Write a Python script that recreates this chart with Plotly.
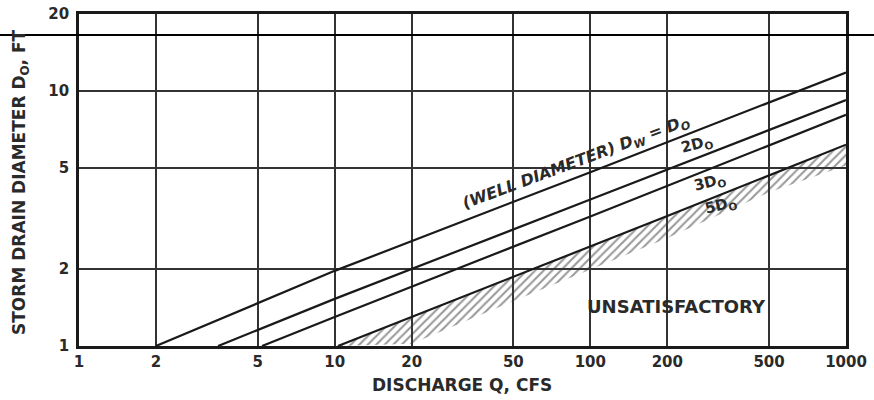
import math
import plotly.graph_objects as go

# ---- data ----
x_tick_vals = [1, 2, 5, 10, 20, 50, 100, 200, 500, 1000]
x_tick_text = ["1", "2", "5", "10", "20", "50", "100", "200", "500", "1000"]
y_tick_vals = [1, 2, 5, 10, 20]
y_tick_text = ["1", "2", "5", "10", "20"]

q_dw1 = [2, 10, 100, 1000]
d_dw1 = [1.0, 1.97, 4.8, 11.8]
q_dw2 = [3.5, 10, 100, 1000]
d_dw2 = [1.0, 1.53, 3.75, 9.2]
q_dw3 = [5.2, 10, 100, 1000]
d_dw3 = [1.0, 1.3, 3.22, 8.05]
q_dw5 = [10.3, 20, 50, 100, 200, 1000]
d_dw5 = [1.0, 1.3, 1.87, 2.46, 3.23, 6.15]
q_hatch_low = [10.3, 20, 50, 100, 200, 500, 1000]
d_hatch_low = [1.0, 1.02, 1.5, 2.0, 2.65, 4.0, 5.1]

INK = "#1a1a1a"
TXT = "#2a2a2a"
FONT = "DejaVu Sans"

fig = go.Figure()

# hatched "unsatisfactory" band below the 5Do line
fig.add_trace(go.Scatter(x=q_hatch_low, y=d_hatch_low, mode="lines",
                         line=dict(width=0), hoverinfo="skip", showlegend=False))
fig.add_trace(go.Scatter(x=q_dw5, y=d_dw5, mode="lines", line=dict(width=0),
                         fill="tonexty", fillcolor="rgba(0,0,0,0)",
                         fillpattern=dict(shape="/", fgcolor="#333", bgcolor="rgba(0,0,0,0)",
                                          size=6, solidity=0.35),
                         hoverinfo="skip", showlegend=False))

for q, d in [(q_dw1, d_dw1), (q_dw2, d_dw2), (q_dw3, d_dw3), (q_dw5, d_dw5)]:
    fig.add_trace(go.Scatter(x=q, y=d, mode="lines", line=dict(color=INK, width=2.2),
                             showlegend=False))

W, H = 874, 400
L, R, T, B = 79, 28, 14, 54
pw, ph = W - L - R, H - T - B


def px_to_data(px, py):
    return (px - L) / 256.0, (H - B - py) / 255.0


def label(text, px, py, size, angle=0, italic=False):
    lx, ly = px_to_data(px, py)
    fig.add_annotation(x=lx, y=ly, xref="x", yref="y", text=text, showarrow=False,
                       textangle=angle, xanchor="center", yanchor="middle",
                       font=dict(family=FONT, size=size, color=TXT, weight="bold",
                                 style="italic" if italic else "normal"))


label("(WELL DIAMETER) D<sub>W</sub> = D<sub>O</sub>", 577, 163, 16, angle=-20.5, italic=True)
label("2D<sub>O</sub>", 698, 145, 15, angle=-14)
label("3D<sub>O</sub>", 711, 183, 15, angle=-14)
label("5D<sub>O</sub>", 722, 206, 15, angle=-14)
label("UNSATISFACTORY", 677, 307, 18)

# axis titles
fig.add_annotation(xref="paper", yref="paper", x=(462 - L) / pw, y=(H - B - 385) / ph,
                   text="DISCHARGE Q, CFS", showarrow=False, xanchor="center", yanchor="middle",
                   font=dict(family=FONT, size=17, color=TXT, weight="bold"))
fig.add_annotation(xref="paper", yref="paper", x=(20 - L) / pw, y=(H - B - 182) / ph,
                   text="STORM DRAIN DIAMETER D<sub>O</sub>, FT", showarrow=False, textangle=-90,
                   xanchor="center", yanchor="middle",
                   font=dict(family=FONT, size=17, color=TXT, weight="bold"))

# stray horizontal scan line across the page
fig.add_shape(type="line", xref="paper", yref="paper", x0=-L / pw, x1=(W - L) / pw,
              y0=(H - B - 35) / ph, y1=(H - B - 35) / ph, line=dict(color="black", width=2))

fig.update_xaxes(type="log", range=[0, 3], tickvals=x_tick_vals, ticktext=x_tick_text,
                 showgrid=True, gridcolor="#333", gridwidth=1.6, zeroline=False,
                 showline=True, mirror=True, linecolor=INK, linewidth=2.6,
                 ticks="", ticklabelstandoff=0,
                 tickfont=dict(family=FONT, size=15, color=TXT, weight="bold"))
fig.update_yaxes(type="log", range=[0, math.log10(20)], tickvals=y_tick_vals, ticktext=y_tick_text,
                 showgrid=True, gridcolor="#333", gridwidth=1.6, zeroline=False,
                 showline=True, mirror=True, linecolor=INK, linewidth=2.6,
                 ticks="", ticklabelstandoff=4,
                 tickfont=dict(family=FONT, size=15, color=TXT, weight="bold"))

fig.update_layout(width=W, height=H, margin=dict(l=L, r=R, t=T, b=B, autoexpand=False),
                  paper_bgcolor="white", plot_bgcolor="white", showlegend=False)

fig.write_html("out.html", config={"displayModeBar": False})

# remove the default page margin so the figure sits at the window's top-left corner
with open("out.html", "r", encoding="utf-8") as f:
    html = f.read()
html = html.replace("<head>", "<head><style>html,body{margin:0;padding:0;overflow:hidden;}</style>", 1)
with open("out.html", "w", encoding="utf-8") as f:
    f.write(html)
